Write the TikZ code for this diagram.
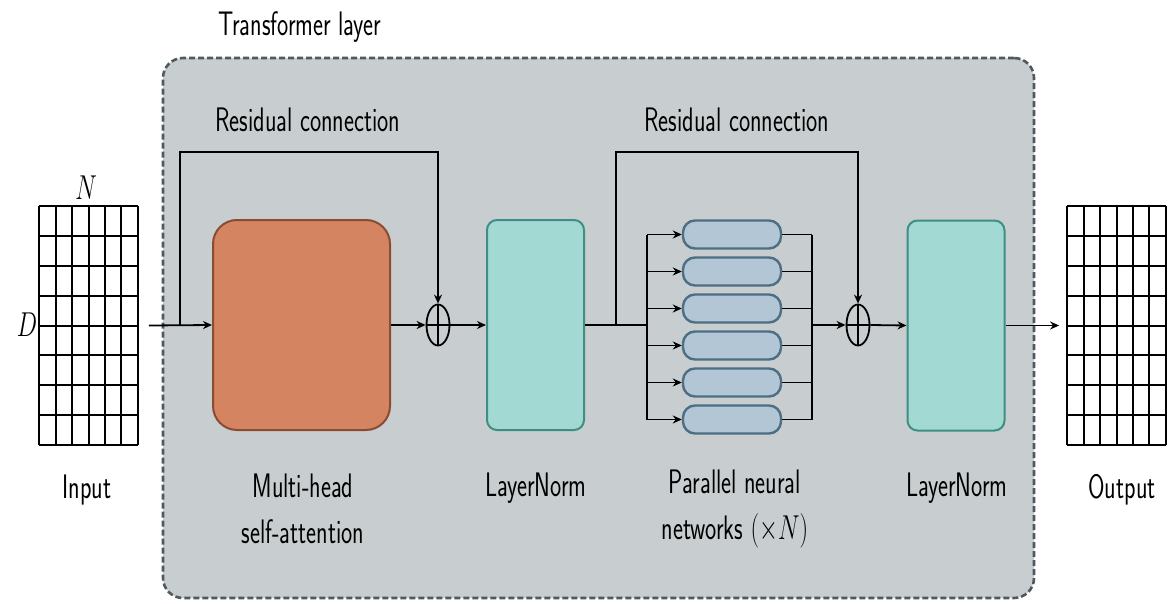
\documentclass[tikz,border=0pt]{standalone}
\usetikzlibrary{arrows.meta,positioning,shapes.geometric,calc}
\definecolor{layerbg}{RGB}{200,206,208}
\definecolor{layerline}{RGB}{80,88,96}
\definecolor{attn}{RGB}{212,132,96}
\definecolor{attnline}{RGB}{138,75,51}
\definecolor{norm}{RGB}{162,218,211}
\definecolor{normline}{RGB}{62,142,132}
\definecolor{ffn}{RGB}{178,198,213}
\definecolor{ffnline}{RGB}{78,110,132}

\begin{document}
\begin{tikzpicture}[
  x=0.5pt, y=-0.5pt,
  every node/.style={font=\sffamily\fontsize{17}{23}\selectfont},
  lbl/.style={xscale=0.7, align=center, inner sep=0pt},
  layerbox/.style={draw=layerline, fill=layerbg, line width=1.3pt,
                 dash pattern=on 3pt off 1.5pt, rounded corners=10pt,
                 minimum width=435.5pt, minimum height=270pt},
  attnbox/.style={draw=attnline, fill=attn, line width=1pt, rounded corners=12pt,
                 minimum width=88.5pt, minimum height=105pt},
  normbox/.style={draw=normline, fill=norm, line width=1pt, rounded corners=5pt,
                 minimum width=48.5pt, minimum height=105pt},
  ffnbox/.style={draw=ffnline, fill=ffn, line width=1.2pt, rounded corners=6pt,
                 minimum width=49pt, minimum height=14pt},
  addop/.style={ellipse, draw, line width=0.9pt, minimum width=11.5pt,
                 minimum height=20.5pt, inner sep=0pt},
  tokgrid/.style={minimum width=49pt, minimum height=119.5pt, inner sep=0pt},
  conn/.style={line width=0.9pt},
  >={Stealth[length=4.5pt,width=4pt]}
]
\useasboundingbox (0,0) rectangle (1176,604);

% transformer layer frame
\node[layerbox] (layer) at (598.5,328) {};
\node[lbl] (ttl) at (300,27) {Transformer layer};

% input and output tokens
\node[tokgrid] (inp) at (88.5,325.5) {};
\node[tokgrid] (outp) at (1116.5,325.5) {};
\foreach \g in {inp,outp} {
  \foreach \i in {0,...,6}
    \draw[line width=1pt] ($(\g.north west)!\i/6!(\g.north east)$) -- ($(\g.south west)!\i/6!(\g.south east)$);
  \foreach \j in {0,...,8}
    \draw[line width=1pt] ($(\g.north west)!\j/8!(\g.south west)$) -- ($(\g.north east)!\j/8!(\g.south east)$);
}
\node[lbl] (nlbl) at (86,188) {$N$};
\node[lbl] (dlbl) at (27,325) {$D$};
\node[lbl] (inlbl) at (87,490) {Input};
\node[lbl] (outlbl) at (1122,490) {Output};

% blocks
\node[attnbox] (att) at (301.5,325) {};
\node[addop] (add1) at (438,325) {};
\node[normbox] (ln1) at (535.5,325) {};
\foreach \k in {1,...,6}
  \node[ffnbox] (ff\k) at (732,197.5+37*\k) {};
\node[addop] (add2) at (858,325) {};
\node[normbox] (ln2) at (956,325.5) {};
\foreach \a in {add1,add2}
  \draw[conn] (\a.north) -- (\a.south) (\a.west) -- (\a.east);

\node[lbl] (attlbl) at (303,509) {Multi-head\\self-attention};
\node[lbl] (ln1lbl) at (536,488) {LayerNorm};
\node[lbl] (fflbl) at (735,509) {Parallel neural\\networks $(\times N)$};
\node[lbl] (ln2lbl) at (957,488) {LayerNorm};
\node[lbl] (res1lbl) at (308,120) {Residual connection};
\node[lbl] (res2lbl) at (737,120) {Residual connection};

% connectors
\coordinate (instart) at ([xshift=5.5pt]inp.east);
\coordinate (outend) at ([xshift=-4pt]outp.west);
\coordinate (split1) at (180,325);
\coordinate (res1) at (180,152);
\coordinate (split2) at (616,325);
\coordinate (res2) at (616,152);
\coordinate (fanin) at (647,325);
\coordinate (fanout) at (812,325);

\draw[conn,->] (instart) -- (att.west);
\draw[conn,->] (split1) -- (res1) -| (add1.north);
\draw[conn,->] (att.east) -- (add1.west);
\draw[conn,->] (add1.east) -- (ln1.west);
\draw[conn] (ln1.east) -- (fanin);
\draw[conn,->] (split2) -- (res2) -| (add2.north);
\draw[conn] (fanin |- ff1.west) -- (fanin |- ff6.west);
\draw[conn] (fanout |- ff1.east) -- (fanout |- ff6.east);
\foreach \k in {1,...,6} {
  \draw[conn,->] (fanin |- ff\k.west) -- (ff\k.west);
  \draw[conn] (ff\k.east) -- (fanout |- ff\k.east);
}
\draw[conn,->] (fanout) -- (add2.west);
\draw[conn,->] (add2.east) -- (ln2.west);
\draw[conn,->] (ln2.east) -- (outend);

\end{tikzpicture}
\end{document}
